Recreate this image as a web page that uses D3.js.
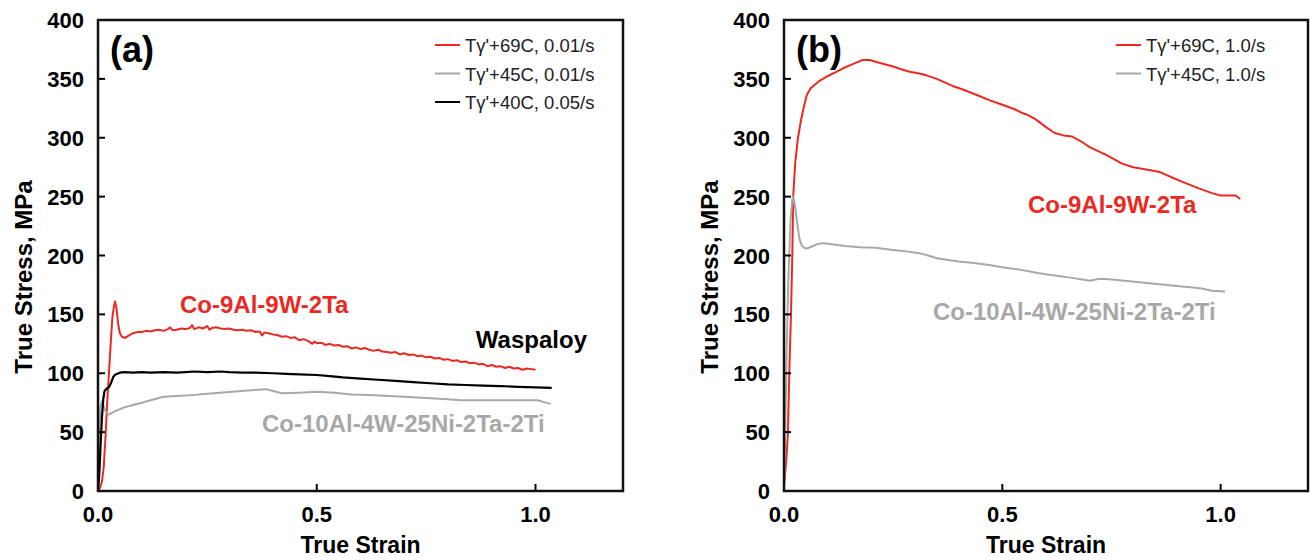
<!DOCTYPE html>
<html>
<head>
<meta charset="utf-8">
<script src="https://cdn.jsdelivr.net/npm/d3@7"></script>
<style>
  body { margin: 0; background: #fff; }
  svg text { font-family: "Liberation Sans", Arial, sans-serif; }
  .tick-label { font-size: 22px; font-weight: bold; }
  .axis-title { font-size: 23px; font-weight: bold; }
  .legend-text { font-size: 18.5px; fill: #222; }
  .alloy { font-size: 24px; font-weight: bold; }
</style>
</head>
<body>
<div id="vis"></div>
<script>
/*************************** data ************************************/
var x_ticks = [0, 0.5, 1.0];
var y_ticks = [0, 50, 100, 150, 200, 250, 300, 350, 400];

// (a) Ty'+69C, 0.01/s  (Co-9Al-9W-2Ta)
var red_a = [[0,0],[0.005,3],[0.009,8],[0.013,20],[0.017,45],[0.021,75],[0.025,100],[0.029,125],
  [0.033,148],[0.037,158],[0.039,161],[0.042,156],[0.046,142],[0.05,134],[0.055,131],[0.062,130],
  [0.07,132],[0.08,134],[0.09,135],[0.1,135],[0.11,136],[0.12,135.5],[0.13,136.5],[0.14,137],
  [0.15,136],[0.16,137.5],[0.165,139],[0.17,136.5],[0.18,137],[0.19,138],[0.2,137.5],[0.21,138.5],
  [0.215,141],[0.22,137.5],[0.23,139],[0.24,138],[0.25,140],[0.255,137],[0.26,138.5],[0.27,139],
  [0.28,138],[0.29,137.5],[0.3,138],[0.31,137],[0.32,136.5],[0.33,137],[0.34,136],[0.35,136.5],
  [0.36,135],[0.37,135.5],[0.375,132],[0.38,134.5],[0.39,134],[0.4,133],[0.41,132.5],[0.42,131],
  [0.43,131.5],[0.44,130],[0.45,130.5],[0.46,128],[0.47,129],[0.48,127.5],[0.49,125],[0.495,127],
  [0.5,125.5],[0.51,126],[0.52,124],[0.53,125],[0.54,123.5],[0.55,124],[0.56,122.5],[0.57,123],
  [0.58,121],[0.59,122],[0.6,120.5],[0.61,121.5],[0.62,120],[0.63,119],[0.64,120],[0.65,118.5],
  [0.66,118],[0.67,117.5],[0.68,118],[0.69,116],[0.7,117],[0.71,115.5],[0.72,116],[0.73,114.5],
  [0.74,115],[0.75,113.5],[0.76,114],[0.77,112.5],[0.78,113],[0.79,111.5],[0.8,112],[0.81,110.5],
  [0.82,111],[0.83,109.5],[0.84,110],[0.85,108.5],[0.86,109],[0.87,107.5],[0.88,108],[0.89,106],
  [0.9,107],[0.91,105.5],[0.92,106],[0.93,104.5],[0.94,105.5],[0.95,104],[0.96,104.5],[0.97,103],
  [0.98,104],[0.99,103.5],[1.0,103]];

// (a) Ty'+45C, 0.01/s  (Co-10Al-4W-25Ni-2Ta-2Ti)
var grey_a = [[0,0],[0.002,30],[0.004,60],[0.006,72],[0.009,76],[0.013,72],[0.018,67],[0.024,65],
  [0.03,66],[0.04,68],[0.06,71],[0.08,73],[0.1,75],[0.12,77],[0.15,80],[0.2,81],[0.25,82.5],
  [0.3,84],[0.35,85.5],[0.385,86.5],[0.4,85],[0.42,83],[0.46,83.5],[0.5,84.3],[0.54,83.5],
  [0.58,82],[0.62,81.5],[0.7,80],[0.75,79],[0.8,78],[0.83,77],[0.9,77],[0.95,77],[1.005,77],
  [1.02,75.5],[1.035,74]];

// (a) Ty'+40C, 0.05/s  (Waspaloy)
var black_a = [[0,0],[0.003,15],[0.006,40],[0.009,62],[0.012,78],[0.015,85],[0.02,87],[0.025,88],
  [0.03,92],[0.035,97],[0.04,99],[0.05,100.5],[0.06,101],[0.08,100.5],[0.1,101],[0.12,100.5],
  [0.15,101],[0.18,100.5],[0.2,101],[0.22,101.5],[0.25,101],[0.28,101.5],[0.3,101],[0.33,100.5],
  [0.36,100.5],[0.4,100],[0.43,99.5],[0.46,99],[0.5,98.5],[0.53,97.5],[0.56,96.5],[0.6,95.5],
  [0.64,94.5],[0.68,93.5],[0.72,92.5],[0.76,91.5],[0.8,90.5],[0.84,90],[0.88,89.5],[0.92,89],
  [0.96,88.5],[1.0,88],[1.037,87.5]];

// (b) Ty'+69C, 1.0/s
var red_b = [[0,5],[0.005,25],[0.009,49],[0.012,100],[0.016,150],[0.019,200],[0.021,250],[0.026,280],
  [0.032,300],[0.038,313],[0.044,324],[0.052,336],[0.061,342],[0.08,348],[0.098,352],[0.12,356],
  [0.135,359],[0.16,363],[0.18,366],[0.196,366],[0.22,363.5],[0.25,360.5],[0.27,358],[0.288,356],
  [0.31,354.5],[0.326,353],[0.35,350],[0.386,344],[0.41,341],[0.43,338],[0.45,335],[0.47,332],
  [0.5,328],[0.53,324],[0.546,321],[0.56,319],[0.575,316],[0.6,309],[0.62,304],[0.64,302],
  [0.66,301],[0.68,297],[0.7,292],[0.74,285],[0.774,278],[0.8,275],[0.836,272.6],[0.86,271],
  [0.89,266],[0.911,262.7],[0.95,257],[0.98,253],[1.0,251],[1.02,251],[1.034,251],[1.045,248]];

// (b) Ty'+45C, 1.0/s
var grey_b = [[0,0],[0.003,50],[0.006,120],[0.01,180],[0.015,230],[0.019,248],[0.021,250],[0.025,243],
  [0.03,228],[0.035,215],[0.04,209],[0.046,206.5],[0.052,206],[0.06,207],[0.075,209.5],[0.09,210.5],
  [0.11,209.5],[0.14,208],[0.174,207],[0.21,206.5],[0.25,204.7],[0.28,203.5],[0.31,202],[0.33,200],
  [0.35,197.6],[0.4,195],[0.44,193.5],[0.47,192],[0.5,190],[0.54,188],[0.584,185],[0.62,183],
  [0.66,181],[0.7,178.5],[0.72,180],[0.737,180],[0.78,178.5],[0.82,177],[0.86,175.5],[0.9,174],
  [0.93,173],[0.957,172],[0.98,170],[1.01,169.5]];

var RED = "#ea2a22", GREY = "#a8a8a8", BLACK = "#000";

/*************************** panel ************************************/
function draw_panel(svg, box, opts) {
    var x = d3.scaleLinear().domain([0, 1.2]).range([box.left, box.right]);
    var y = d3.scaleLinear().domain([0, 400]).range([box.bottom, box.top]);
    var g = svg.append("g");

    var line = d3.line()
        .x(function(d) { return x(d[0]); })
        .y(function(d) { return y(d[1]); });

    opts.series.forEach(function(s) {
        g.append("path")
            .datum(s.data)
            .attr("fill", "none")
            .attr("stroke", s.color)
            .attr("stroke-width", s.width || 2)
            .attr("stroke-linejoin", "round")
            .attr("d", line);
    });

    // inward ticks
    g.selectAll("line.ytick")
        .data(y_ticks)
      .enter().append("line")
        .attr("x1", box.left).attr("x2", box.left + 7)
        .attr("y1", function(d) { return y(d); })
        .attr("y2", function(d) { return y(d); })
        .attr("stroke", "#000").attr("stroke-width", 2);
    g.selectAll("line.xtick")
        .data(x_ticks)
      .enter().append("line")
        .attr("x1", function(d) { return x(d); })
        .attr("x2", function(d) { return x(d); })
        .attr("y1", box.bottom).attr("y2", box.bottom - 7)
        .attr("stroke", "#000").attr("stroke-width", 2);

    g.append("rect")
        .attr("x", box.left).attr("y", box.top)
        .attr("width", box.right - box.left)
        .attr("height", box.bottom - box.top)
        .attr("fill", "none")
        .attr("stroke", "#111")
        .attr("stroke-width", 2.5);

    g.selectAll("text.ylab")
        .data(y_ticks)
      .enter().append("text")
        .attr("class", "tick-label")
        .attr("text-anchor", "end")
        .attr("x", box.left - 14)
        .attr("y", function(d) { return y(d) + 8; })
        .text(function(d) { return d; });
    g.selectAll("text.xlab")
        .data(x_ticks)
      .enter().append("text")
        .attr("class", "tick-label")
        .attr("text-anchor", "middle")
        .attr("x", function(d) { return x(d); })
        .attr("y", box.bottom + 31)
        .text(d3.format(".1f"));

    g.append("text")
        .attr("class", "axis-title")
        .attr("text-anchor", "middle")
        .attr("x", (box.left + box.right) / 2)
        .attr("y", box.bottom + 62)
        .text("True Strain");
    g.append("text")
        .attr("class", "axis-title")
        .attr("text-anchor", "middle")
        .style("font-size", "24px")
        .attr("transform", "translate(" + (box.left - 66) + ",277) rotate(-90)")
        .text("True Stress, MPa");

    g.append("text")
        .attr("x", box.left + 12)
        .attr("y", box.top + 42)
        .style("font-size", "36px")
        .style("font-weight", "bold")
        .text(opts.tag);

    // legend
    var leg = g.selectAll("g.legend-elem")
        .data(opts.series)
      .enter().append("g")
        .attr("class", "legend-elem")
        .attr("transform", function(d, i)
            { return "translate(" + opts.legend_x + "," + (box.top + 25 + i * 28.5) + ")"; });
    leg.append("line")
        .attr("x1", 0).attr("x2", 25)
        .attr("stroke", function(d) { return d.color; })
        .attr("stroke-width", 2);
    leg.append("text")
        .attr("class", "legend-text")
        .attr("x", 30).attr("y", 7)
        .text(function(d) { return d.name; });

    opts.labels.forEach(function(l) {
        g.append("text")
            .attr("class", "alloy")
            .attr("x", l.x).attr("y", l.y)
            .attr("text-anchor", l.anchor || "start")
            .attr("fill", l.color)
            .text(l.text);
    });
}

var svg = d3.select("div#vis").append("svg")
    .attr("width", 1310)
    .attr("height", 560);

draw_panel(svg, {left: 98, right: 623, top: 20, bottom: 491}, {
    tag: "(a)",
    legend_x: 435,
    series: [
        {name: "T\u03b3'+69C, 0.01/s", color: RED, data: red_a},
        {name: "T\u03b3'+45C, 0.01/s", color: GREY, data: grey_a},
        {name: "T\u03b3'+40C, 0.05/s", color: BLACK, data: black_a, width: 2.2}
    ],
    labels: [
        {text: "Co-9Al-9W-2Ta", x: 180, y: 313, color: RED},
        {text: "Waspaloy", x: 587, y: 348, color: "#000", anchor: "end"},
        {text: "Co-10Al-4W-25Ni-2Ta-2Ti", x: 262, y: 432, color: GREY}
    ]
});

draw_panel(svg, {left: 784, right: 1308, top: 20, bottom: 491}, {
    tag: "(b)",
    legend_x: 1116,
    series: [
        {name: "T\u03b3'+69C, 1.0/s", color: RED, data: red_b},
        {name: "T\u03b3'+45C, 1.0/s", color: GREY, data: grey_b}
    ],
    labels: [
        {text: "Co-9Al-9W-2Ta", x: 1028, y: 213, color: RED},
        {text: "Co-10Al-4W-25Ni-2Ta-2Ti", x: 933, y: 320, color: GREY}
    ]
});
</script>
</body>
</html>
